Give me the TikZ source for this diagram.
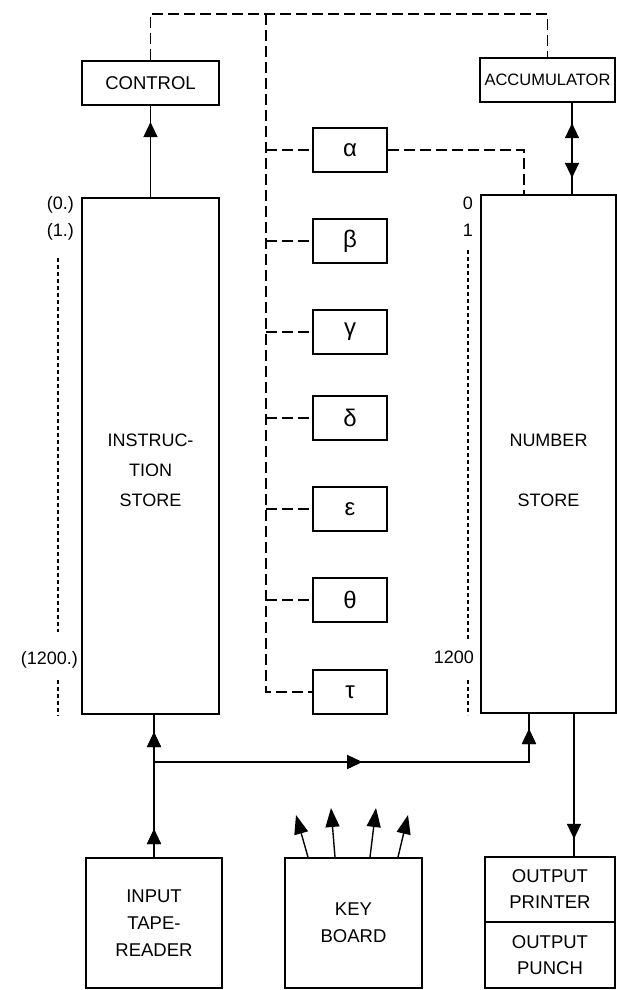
\documentclass[tikz,border=0pt]{standalone}
\usepackage{fontspec}
\setmainfont{Liberation Sans}
\usetikzlibrary{arrows.meta,decorations.markings,calc}
\tikzset{
  box/.style={draw, line width=1.8pt, inner sep=0pt, align=center, font=\fontsize{18.5}{27}\selectfont},
  greekbox/.style={box, minimum width=74pt, minimum height=44pt, font=\fontsize{24}{24}\selectfont},
  storetext/.style={inner sep=0pt, align=center, font=\fontsize{18}{30}\selectfont},
  conn/.style={line width=1.4pt},
  bus/.style={line width=1.4pt, dash pattern=on 11pt off 5pt},
  dots/.style={line width=1.2pt, dash pattern=on 4pt off 3pt},
  marka/.style={postaction={decorate}, decoration={markings, mark=at position #1 with {\arrow{Triangle[width=14pt,length=15pt]}}}},
  markb/.style={postaction={decorate}, decoration={markings, mark=at position #1 with {\arrow{Triangle[width=14pt,length=15pt]}}}},
  kbarrow/.style={line width=1.4pt, -{Triangle[width=14pt,length=19pt]}},
  lbl/.style={font=\fontsize{18}{18}\selectfont, inner sep=0pt}
}
\begin{document}
\begin{tikzpicture}[x=1pt,y=-1pt]
\useasboundingbox (0,0) rectangle (617,990);
% main boxes
\node[box, minimum width=137pt, minimum height=44pt] (ctrl) at (150.5,83) {CONTROL};
\node[box, minimum width=135pt, minimum height=44pt, font=\fontsize{16.5}{16.5}\selectfont] (acc) at (547.5,80) {ACCUMULATOR};
\node[box, minimum width=137pt, minimum height=516pt] (is) at (150.5,456) {};
\node[box, minimum width=135pt, minimum height=518pt] (ns) at (548.5,454) {};
\node[storetext] (istext) at (150.5,470) {INSTRUC-\\TION\\STORE};
\node[storetext, font=\fontsize{18}{60}\selectfont] (nstext) at (548.5,470) {NUMBER\\STORE};
% greek registers
\node[greekbox] (alpha) at (350,150) {α};
\node[greekbox] (beta) at (350,241) {β};
\node[greekbox] (gamma) at (350,332) {γ};
\node[greekbox] (delta) at (350,418) {δ};
\node[greekbox] (eps) at (350,509) {ε};
\node[greekbox] (theta) at (350,600) {θ};
\node[greekbox] (tau) at (350,692) {τ};
% bottom boxes
\node[box, minimum width=136pt, minimum height=130pt] (itr) at (154,923) {INPUT\\TAPE-\\READER};
\node[box, minimum width=137pt, minimum height=130pt] (kb) at (353.5,923) {KEY\\BOARD};
\node[box, minimum width=130pt, minimum height=65pt, font=\fontsize{18.5}{26}\selectfont] (op1) at (550,889.5) {OUTPUT\\PRINTER};
\node[box, minimum width=130pt, minimum height=66pt, font=\fontsize{18.5}{26}\selectfont] (op2) at (550,955) {OUTPUT\\PUNCH};
% labels
\node[lbl, anchor=east] (l0) at (74,205) {(0.)};
\node[lbl, anchor=east] (l1) at (74,232) {(1.)};
\node[lbl, anchor=east] (l1200) at (78,660) {(1200.)};
\node[lbl, anchor=east] (n0) at (473,203) {0};
\node[lbl, anchor=east] (n1) at (473,230) {1};
\node[lbl, anchor=east] (n1200) at (474,657) {1200};
\draw[dots] (58,258) -- (58,632);
\draw[dots] (58,680) -- (58,716);
\draw[dots] (468,250) -- (468,640);
\draw[dots] (468,680) -- (468,715);
% dashed control bus
\coordinate (bustop) at (266,14);
\draw[bus] (ctrl.north) -- (ctrl.north |- bustop) -- (acc.north |- bustop) -- (acc.north);
\draw[bus] (bustop) |- (tau.west);
\draw[bus] (bustop |- alpha.west) -- (alpha.west);
\draw[bus] (bustop |- beta.west) -- (beta.west);
\draw[bus] (bustop |- gamma.west) -- (gamma.west);
\draw[bus] (bustop |- delta.west) -- (delta.west);
\draw[bus] (bustop |- eps.west) -- (eps.west);
\draw[bus] (bustop |- theta.west) -- (theta.west);
\draw[bus] (alpha.east) -| ([xshift=-24.5pt]ns.north);
% solid connectors
\draw[conn, marka=75pt] (is.north) -- (ctrl.south);
\draw[conn, marka=75pt] ([xshift=24.5pt]acc.south) -- ([xshift=24.5pt]acc.south |- ns.north);
\draw[conn, marka=71pt] ([xshift=24.5pt]acc.south |- ns.north) -- ([xshift=24.5pt]acc.south);
\draw[conn, marka=28pt, markb=125pt] (itr.north) -- (itr.north |- is.south);
\coordinate (junc) at (154,762);
\draw[conn, marka=208pt, markb=408pt] (junc) -| ([xshift=-19.5pt]ns.south);
\draw[conn, marka=125pt] ([xshift=25.5pt]ns.south) -- ([xshift=25.5pt]ns.south |- op1.north);
% keyboard arrows
\coordinate (k1) at (296,815);
\coordinate (k2) at (331,808);
\coordinate (k3) at (376,808);
\coordinate (k4) at (408,815);
\draw[kbarrow] ([xshift=-45.5pt]kb.north) -- (k1);
\draw[kbarrow] ([xshift=-18.5pt]kb.north) -- (k2);
\draw[kbarrow] ([xshift=16.5pt]kb.north) -- (k3);
\draw[kbarrow] ([xshift=44.5pt]kb.north) -- (k4);
\end{tikzpicture}
\end{document}
